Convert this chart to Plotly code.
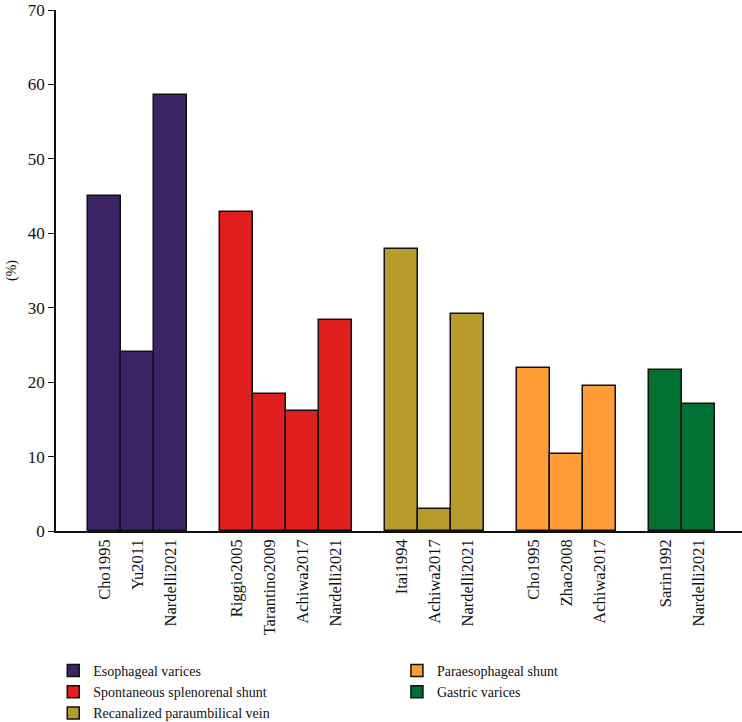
import plotly.graph_objects as go

# ---- data ----
group_names = [
    "Esophageal varices",
    "Spontaneous splenorenal shunt",
    "Recanalized paraumbilical vein",
    "Paraesophageal shunt",
    "Gastric varices",
]
esophageal_studies = ["Cho1995", "Yu2011", "Nardelli2021"]
esophageal_values = [45.0, 24.0, 58.6]
splenorenal_studies = ["Riggio2005", "Tarantino2009", "Achiwa2017", "Nardelli2021"]
splenorenal_values = [42.8, 18.4, 16.1, 28.4]
paraumbilical_studies = ["Itai1994", "Achiwa2017", "Nardelli2021"]
paraumbilical_values = [37.9, 2.9, 29.2]
paraesophageal_studies = ["Cho1995", "Zhao2008", "Achiwa2017"]
paraesophageal_values = [21.9, 10.4, 19.5]
gastric_studies = ["Sarin1992", "Nardelli2021"]
gastric_values = [21.6, 17.1]

colors = ["#3B2466", "#E01E1E", "#B79B2C", "#FF9C38", "#007133"]
y_ticks = [0, 10, 20, 30, 40, 50, 60, 70]

studies = [esophageal_studies, splenorenal_studies, paraumbilical_studies,
           paraesophageal_studies, gastric_studies]
values = [esophageal_values, splenorenal_values, paraumbilical_values,
          paraesophageal_values, gastric_values]

FONT = "Liberation Serif"

fig = go.Figure()
tickvals, ticktext = [], []
pos = 1
for gi, (name, st, vals, col) in enumerate(zip(group_names, studies, values, colors)):
    xs = list(range(pos, pos + len(st)))
    pos += len(st) + 1
    tickvals += xs
    ticktext += st
    fig.add_trace(go.Bar(
        x=xs, y=vals, name=name, width=1.0,
        marker=dict(color=col, line=dict(color="#111111", width=1.5)),
        legend="legend" if gi < 3 else "legend2",
    ))

fig.update_layout(
    width=742, height=722,
    margin=dict(l=56, r=0, t=10, b=191, autoexpand=False),
    plot_bgcolor="white", paper_bgcolor="white",
    barmode="overlay", bargap=0,
    font=dict(family=FONT, color="#111111", size=15),
    showlegend=True,
    legend=dict(x=-0.004, y=-0.238, xanchor="left", yanchor="top",
                orientation="v", font=dict(family=FONT, size=14),
                bgcolor="rgba(0,0,0,0)", tracegroupgap=0),
    legend2=dict(x=0.497, y=-0.238, xanchor="left", yanchor="top",
                 orientation="v", font=dict(family=FONT, size=14),
                 bgcolor="rgba(0,0,0,0)", tracegroupgap=0),
)
fig.update_xaxes(
    range=[-0.47, 20.32], tickmode="array", tickvals=tickvals, ticktext=ticktext,
    tickangle=-90, showgrid=False, zeroline=False, showline=True,
    linecolor="#111111", linewidth=1.5, ticks="", automargin=False,
    tickfont=dict(family=FONT, size=16.5),
)
fig.update_yaxes(
    range=[0, 70], tickvals=y_ticks, showgrid=False, zeroline=False,
    showline=True, linecolor="#111111", linewidth=1.5, automargin=False,
    ticks="outside", ticklen=6, tickwidth=1.2, tickcolor="#111111",
    tickfont=dict(family=FONT, size=17),
    title=dict(text="(%)", font=dict(family=FONT, size=14), standoff=8),
)

fig.write_html(
    "out.html",
    config={"displayModeBar": False},
    post_script="document.body.style.margin='0';document.body.style.padding='0';",
)
